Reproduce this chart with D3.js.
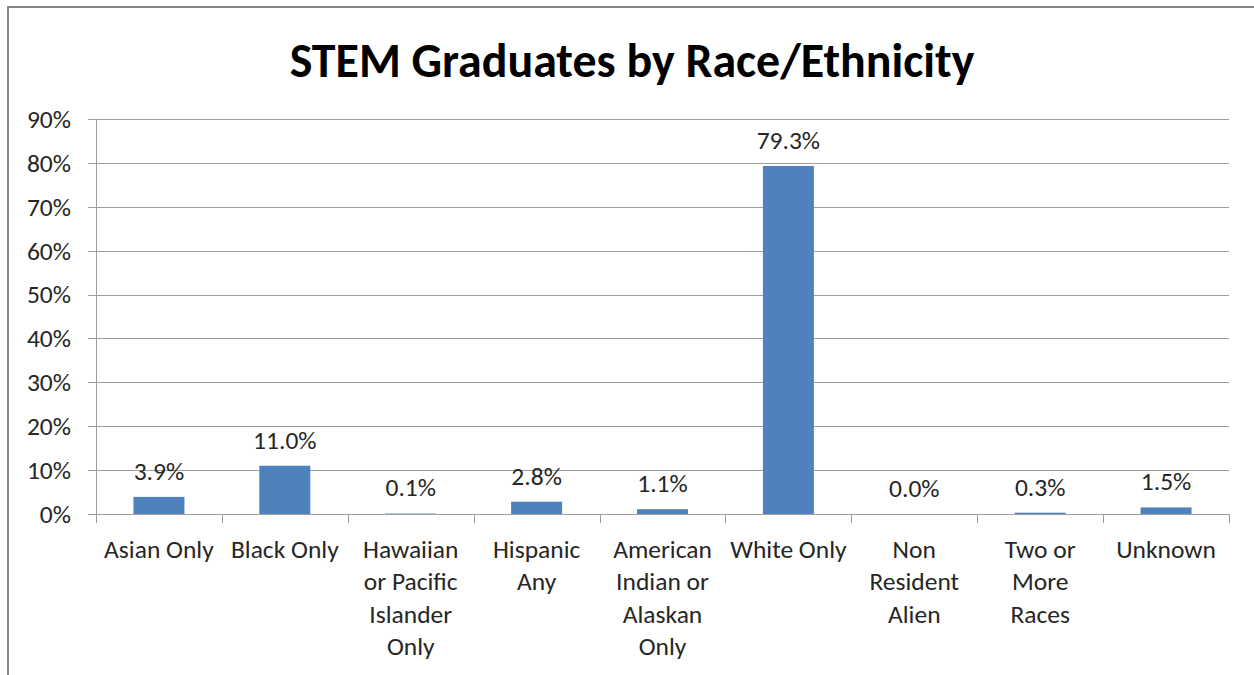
<!DOCTYPE html>
<html>
<head>
<meta charset="utf-8">
<script src="https://cdn.jsdelivr.net/npm/d3@7"></script>
<style>
  html, body { margin: 0; padding: 0; background: #fff; }
  svg { display: block; }
  text { font-family: Calibri, Carlito, Lato, "Liberation Sans", sans-serif; }
</style>
</head>
<body>
<svg id="chart" width="1254" height="675"></svg>
<script>
// ---- data ----
const title = "STEM Graduates by Race/Ethnicity";
const categories = [
  "Asian Only",
  "Black Only",
  "Hawaiian\nor Pacific\nIslander\nOnly",
  "Hispanic\nAny",
  "American\nIndian or\nAlaskan\nOnly",
  "White Only",
  "Non\nResident\nAlien",
  "Two or\nMore\nRaces",
  "Unknown"
];
const values = [3.9, 11.0, 0.1, 2.8, 1.1, 79.3, 0.0, 0.3, 1.5];
const valueLabels = ["3.9%", "11.0%", "0.1%", "2.8%", "1.1%", "79.3%", "0.0%", "0.3%", "1.5%"];
const yTicks = [0, 10, 20, 30, 40, 50, 60, 70, 80, 90];
const yTickLabels = ["0%", "10%", "20%", "30%", "40%", "50%", "60%", "70%", "80%", "90%"];

// ---- layout ----
const W = 1254, H = 675;
const plot = { left: 96, right: 1229, top: 119, bottom: 514 };
const FS = 25.5;
const svg = d3.select("#chart");

svg.append("rect").attr("x", 0).attr("y", 0).attr("width", W).attr("height", H).attr("fill", "#fff");
svg.append("rect").attr("x", 8).attr("y", 7).attr("width", W + 20).attr("height", H + 20)
  .attr("fill", "none").attr("stroke", "#868686").attr("stroke-width", 2);

const x = d3.scaleBand().domain(categories).range([plot.left, plot.right])
  .paddingInner(0.595).paddingOuter(0.2975);
const y = d3.scaleLinear().domain([0, 90]).range([plot.bottom, plot.top]);

// gridlines (except baseline)
svg.append("g").selectAll("line").data(yTicks.filter(d => d > 0)).join("line")
  .attr("x1", plot.left - 8).attr("x2", plot.right)
  .attr("y1", d => Math.round(y(d)) + 0.5).attr("y2", d => Math.round(y(d)) + 0.5)
  .attr("stroke", "#9e9e9e").attr("stroke-width", 1);

// y axis line
svg.append("line").attr("x1", plot.left + 0.5).attr("x2", plot.left + 0.5)
  .attr("y1", plot.top).attr("y2", plot.bottom)
  .attr("stroke", "#9e9e9e").attr("stroke-width", 1);

// bars
svg.append("g").selectAll("rect").data(values).join("rect")
  .attr("x", (d, i) => x(categories[i]))
  .attr("width", x.bandwidth())
  .attr("y", d => y(d))
  .attr("height", d => y(0) - y(d))
  .attr("fill", "#4F81BD");

// baseline (drawn over bars)
svg.append("line").attr("x1", plot.left - 8).attr("x2", plot.right)
  .attr("y1", Math.round(y(0)) + 0.5).attr("y2", Math.round(y(0)) + 0.5)
  .attr("stroke", "#9e9e9e").attr("stroke-width", 1);

// y labels
svg.append("g").selectAll("text").data(yTicks).join("text")
  .attr("x", 71).attr("y", d => y(d)).attr("dy", "0.35em")
  .attr("text-anchor", "end").attr("font-size", FS).attr("fill", "#262626")
  .text((d, i) => yTickLabels[i]);

// x axis tick marks at category boundaries
const bounds = d3.range(categories.length + 1).map(i => plot.left + i * (plot.right - plot.left) / categories.length);
svg.append("g").selectAll("line").data(bounds).join("line")
  .attr("x1", d => Math.round(d) + 0.5).attr("x2", d => Math.round(d) + 0.5)
  .attr("y1", plot.bottom).attr("y2", plot.bottom + 9)
  .attr("stroke", "#9e9e9e").attr("stroke-width", 1);

// value labels
svg.append("g").selectAll("text").data(values).join("text")
  .attr("x", (d, i) => x(categories[i]) + x.bandwidth() / 2)
  .attr("y", d => y(d) - 26).attr("dy", "0.35em")
  .attr("text-anchor", "middle").attr("font-size", FS).attr("fill", "#262626")
  .text((d, i) => valueLabels[i]);

// category labels
const catG = svg.append("g").selectAll("text").data(categories).join("text")
  .attr("text-anchor", "middle").attr("font-size", FS).attr("fill", "#262626");
catG.each(function(d) {
  const t = d3.select(this);
  const cx = x(d) + x.bandwidth() / 2;
  d.split("\n").forEach((line, k) => {
    t.append("tspan").attr("x", cx).attr("y", 549 + k * 32.5).attr("dy", "0.35em").text(line);
  });
});

// title
const tt = svg.append("text").attr("x", 632).attr("y", 60).attr("dy", "0.35em")
  .attr("text-anchor", "middle").attr("font-weight", "bold").attr("font-size", 38)
  .attr("fill", "#000").text(title);
const tw = tt.node().getComputedTextLength();
tt.attr("font-size", 38 * 685 / tw);
</script>
</body>
</html>
